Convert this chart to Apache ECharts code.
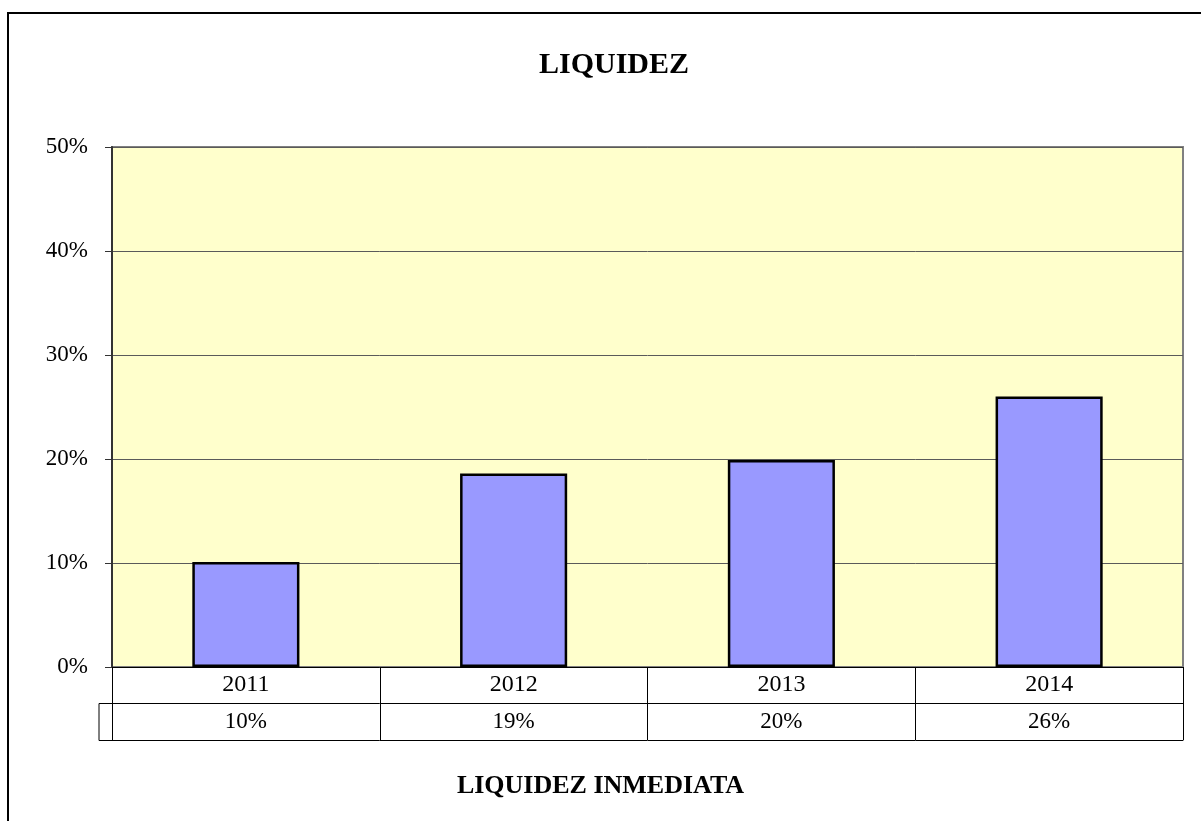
<!DOCTYPE html>
<html>
<head>
<meta charset="utf-8">
<script src="https://cdn.jsdelivr.net/npm/echarts@6/dist/echarts.min.js"></script>
<style>html,body{margin:0;padding:0;background:#fff;}#c{width:1201px;height:821px;}</style>
</head>
<body>
<div id="c"></div>
<script>
var titleText = 'LIQUIDEZ';
var seriesName = 'LIQUIDEZ INMEDIATA';
var categories = ['2011', '2012', '2013', '2014'];
var values = [10.1, 18.6, 19.9, 26.0];
var yTicks = [0, 10, 20, 30, 40, 50];

var FONT = '"Liberation Serif", "Times New Roman", serif';
var chart = echarts.init(document.getElementById('c'), null, {renderer: 'canvas'});

var G = {left: 112, top: 147, width: 1071, height: 520};

function pct(v) { return Math.round(v) + '%'; }

var option = {
  animation: false,
  backgroundColor: '#ffffff',
  title: [
    {text: titleText, left: 534, top: 45,
     textStyle: {fontFamily: FONT, fontSize: 30, fontWeight: 'bold', color: '#000'}},
    {text: seriesName, left: 'center', top: 768,
     textStyle: {fontFamily: FONT, fontSize: 26, fontWeight: 'bold', color: '#000'}}
  ],
  grid: {left: G.left, top: G.top, width: G.width, height: G.height,
         show: true, backgroundColor: '#FFFFCC', borderColor: '#808080', borderWidth: 2},
  xAxis: [
    {type: 'category', data: categories, position: 'bottom', boundaryGap: true,
     axisLine: {show: true, lineStyle: {color: '#000', width: 1}},
     axisTick: {show: true, length: 36, inside: false, alignWithLabel: false, lineStyle: {color: '#000', width: 1}},
     axisLabel: {show: true, margin: 0, lineHeight: 36, height: 36, verticalAlign: 'top',
                 fontFamily: FONT, fontSize: 24, color: '#000'},
     splitLine: {show: false}},
    {type: 'category', data: categories, position: 'bottom', offset: 36, boundaryGap: true,
     axisLine: {show: true, lineStyle: {color: '#000', width: 1}},
     axisTick: {show: true, length: 37, inside: false, alignWithLabel: false, lineStyle: {color: '#000', width: 1}},
     axisLabel: {show: true, margin: 0, lineHeight: 37, height: 37, verticalAlign: 'top',
                 fontFamily: FONT, fontSize: 23, color: '#000',
                 formatter: function (v, i) { return pct(values[i]); }},
     splitLine: {show: false}},
    {type: 'category', data: categories, position: 'bottom', offset: 73, boundaryGap: true,
     axisLine: {show: true, lineStyle: {color: '#000', width: 1}},
     axisTick: {show: false}, axisLabel: {show: false}, splitLine: {show: false}}
  ],
  yAxis: {
    type: 'value', min: 0, max: 50, interval: 10,
    axisLine: {show: true, lineStyle: {color: '#333', width: 2}},
    axisTick: {show: true, length: 7, inside: false, lineStyle: {color: '#333', width: 1}},
    axisLabel: {margin: 24, fontFamily: FONT, fontSize: 23, color: '#000',
                formatter: function (v) { return v + '%'; }},
    splitLine: {show: true, lineStyle: {color: '#5a5a5a', width: 1}}
  },
  series: [{
    name: seriesName, type: 'bar', xAxisIndex: 0, data: values, barWidth: '40%',
    itemStyle: {color: '#9999FF', borderColor: '#000', borderWidth: 2.5}
  }]
};
chart.setOption(option);

// frame + legend-key cell of the data table (derived from grid geometry)
var x0 = G.left, yb = G.top + G.height;
chart.setOption({
  graphic: [
    {type: 'rect', z: -10, silent: true, shape: {x: 8, y: 13, width: 1400, height: 1000},
     style: {fill: null, stroke: '#000', lineWidth: 2}},
    {type: 'polyline', z: 10, silent: true,
     shape: {points: [[x0, yb + 36.5], [x0 - 13, yb + 36.5], [x0 - 13, yb + 73.5], [x0, yb + 73.5]]},
     style: {fill: null, stroke: '#000', lineWidth: 1}}
  ]
});
</script>
</body>
</html>
